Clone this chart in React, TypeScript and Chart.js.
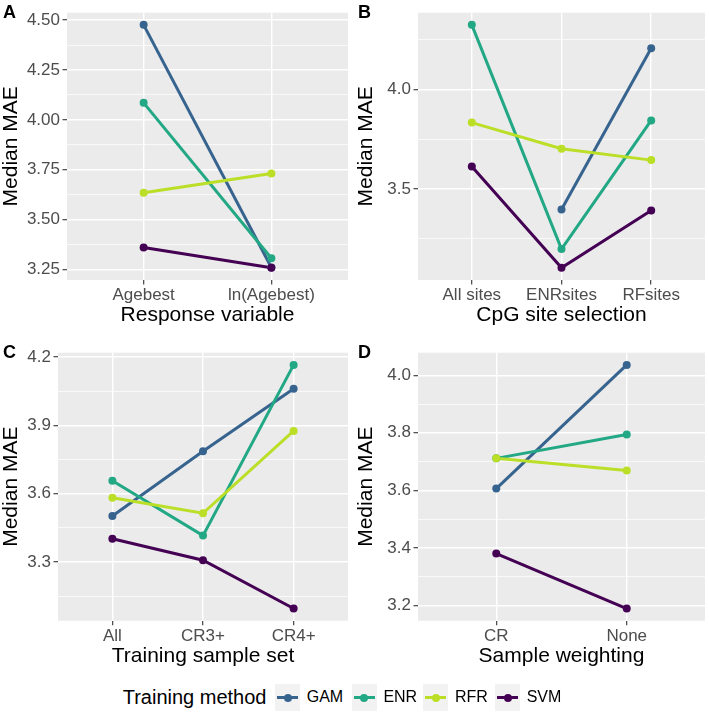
import React, { useEffect, useRef } from 'react';
import { Chart, registerables } from 'chart.js';
Chart.register(...registerables);

const FONT = "'Liberation Sans', Arial, Helvetica, sans-serif";

const METHODS = ['GAM', 'ENR', 'RFR', 'SVM'];
const COLORS = ['#37648F', '#22A884', '#BBDF27', '#440154'];

// Panel A – Response variable
const CATS_A = ['Agebest', 'ln(Agebest)'];
const GAM_A = [4.476, 3.26];
const ENR_A = [4.085, 3.306];
const RFR_A = [3.634, 3.731];
const SVM_A = [3.36, 3.258];
const TICKS_A = [3.25, 3.5, 3.75, 4.0, 4.25, 4.5];

// Panel B – CpG site selection
const CATS_B = ['All sites', 'ENRsites', 'RFsites'];
const GAM_B = [null, 3.397, 4.206];
const ENR_B = [4.323, 3.199, 3.844];
const RFR_B = [3.833, 3.702, 3.645];
const SVM_B = [3.613, 3.105, 3.392];
const TICKS_B = [3.5, 4.0];

// Panel C – Training sample set
const CATS_C = ['All', 'CR3+', 'CR4+'];
const GAM_C = [3.502, 3.786, 4.06];
const ENR_C = [3.657, 3.416, 4.165];
const RFR_C = [3.582, 3.514, 3.875];
const SVM_C = [3.402, 3.308, 3.096];
const TICKS_C = [3.3, 3.6, 3.9, 4.2];

// Panel D – Sample weighting
const CATS_D = ['CR', 'None'];
const GAM_D = [3.606, 4.036];
const ENR_D = [3.711, 3.794];
const RFR_D = [3.711, 3.669];
const SVM_D = [3.38, 3.189];
const TICKS_D = [3.2, 3.4, 3.6, 3.8, 4.0];

type PanelCfg = {
  letter: string;
  xTitle: string;
  cats: string[];
  series: (number | null)[][];
  ticks: number[];
  decimals: number;
  left: number;
  top: number;
  width: number;
  height: number;
  yWidth: number;
  xHeight: number;
  padTop: number;
  padRight: number;
};

const PANELS: PanelCfg[] = [
  { letter: 'A', xTitle: 'Response variable', cats: CATS_A, series: [GAM_A, ENR_A, RFR_A, SVM_A], ticks: TICKS_A, decimals: 2,
    left: 0, top: 0, width: 354, height: 335, yWidth: 67, xHeight: 55, padTop: 4, padRight: 6 },
  { letter: 'B', xTitle: 'CpG site selection', cats: CATS_B, series: [GAM_B, ENR_B, RFR_B, SVM_B], ticks: TICKS_B, decimals: 1,
    left: 355, top: 0, width: 354, height: 335, yWidth: 63, xHeight: 55, padTop: 4, padRight: 4 },
  { letter: 'C', xTitle: 'Training sample set', cats: CATS_C, series: [GAM_C, ENR_C, RFR_C, SVM_C], ticks: TICKS_C, decimals: 1,
    left: 0, top: 340, width: 354, height: 336, yWidth: 58, xHeight: 55.3, padTop: 3.3, padRight: 6 },
  { letter: 'D', xTitle: 'Sample weighting', cats: CATS_D, series: [GAM_D, ENR_D, RFR_D, SVM_D], ticks: TICKS_D, decimals: 1,
    left: 355, top: 340, width: 354, height: 336, yWidth: 63, xHeight: 55.3, padTop: 3.3, padRight: 4 },
];

const bgPlugin = {
  id: 'panelBg',
  beforeDraw(chart: any) {
    const { ctx, chartArea } = chart;
    ctx.save();
    ctx.fillStyle = '#EBEBEB';
    ctx.fillRect(chartArea.left, chartArea.top, chartArea.right - chartArea.left, chartArea.bottom - chartArea.top);
    ctx.restore();
  },
};

function Panel({ cfg }: { cfg: PanelCfg }) {
  const ref = useRef<HTMLCanvasElement>(null);
  useEffect(() => {
    const canvas = ref.current;
    if (!canvas) return;
    const all = cfg.series.flat().filter((v) => v != null) as number[];
    const lo = Math.min(...all);
    const hi = Math.max(...all);
    const ex = (hi - lo) * 0.05;
    const ymin = lo - ex;
    const ymax = hi + ex;
    const step = cfg.ticks[1] - cfg.ticks[0];
    const yTicks: any[] = [];
    for (let k = -6; k <= cfg.ticks.length * 2 + 6; k++) {
      const v = Math.round((cfg.ticks[0] + (k * step) / 2) * 1e6) / 1e6;
      if (v >= ymin && v <= ymax) yTicks.push({ value: v, minor: k % 2 !== 0 });
    }
    const pts = (i: number) =>
      cfg.cats
        .map((_, j) => ({ x: j + 1, y: cfg.series[i][j] }))
        .filter((p) => p.y != null);

    const lineSets = METHODS.map((m, i) => ({
      label: m,
      data: pts(i),
      borderColor: COLORS[i],
      backgroundColor: COLORS[i],
      borderWidth: 3,
      pointRadius: 0,
      pointHoverRadius: 0,
      tension: 0,
      order: 10 - i,
      clip: false as any,
    }));
    const pointSets = METHODS.map((m, i) => ({
      label: m + ' points',
      data: pts(i),
      showLine: false,
      borderColor: COLORS[i],
      backgroundColor: COLORS[i],
      pointBackgroundColor: COLORS[i],
      pointBorderWidth: 0,
      pointRadius: 4,
      pointHoverRadius: 4,
      order: 4 - i,
      clip: false as any,
    }));

    const chart = new Chart(canvas, {
      type: 'line',
      data: { datasets: [...lineSets, ...pointSets] as any },
      plugins: [bgPlugin],
      options: {
        animation: false,
        responsive: false,
        maintainAspectRatio: false,
        events: [],
        layout: { padding: { top: cfg.padTop, right: cfg.padRight, left: 0, bottom: 0 } },
        plugins: { legend: { display: false }, tooltip: { enabled: false } },
        scales: {
          x: {
            type: 'linear',
            min: 0.4,
            max: cfg.cats.length + 0.6,
            afterBuildTicks: (scale: any) => {
              scale.ticks = cfg.cats.map((_, j) => ({ value: j + 1 }));
            },
            afterFit: (scale: any) => {
              scale.height = cfg.xHeight;
            },
            border: { display: false },
            grid: {
              color: '#FFFFFF',
              lineWidth: 1.4,
              tickColor: '#333333',
              tickLength: 4.5,
              tickWidth: 1.1,
              drawTicks: true,
            },
            ticks: {
              autoSkip: false,
              maxRotation: 0,
              padding: 1,
              color: '#4D4D4D',
              font: { family: FONT, size: 17 },
              callback: (v: any) => cfg.cats[Math.round(Number(v)) - 1] ?? '',
            },
            title: {
              display: true,
              text: cfg.xTitle,
              color: '#000000',
              font: { family: FONT, size: 21, lineHeight: 1 },
              padding: { top: 0, bottom: 9.5 },
            },
          },
          y: {
            type: 'linear',
            min: ymin,
            max: ymax,
            afterBuildTicks: (scale: any) => {
              scale.ticks = yTicks.map((t) => ({ ...t }));
            },
            afterFit: (scale: any) => {
              scale.width = cfg.yWidth;
            },
            border: { display: false },
            grid: {
              color: '#FFFFFF',
              lineWidth: (ctx: any) => (ctx.tick && ctx.tick.minor ? 0.7 : 1.4),
              tickColor: (ctx: any) => (ctx.tick && ctx.tick.minor ? 'rgba(0,0,0,0)' : '#333333'),
              tickLength: 4.5,
              tickWidth: 1.1,
              drawTicks: true,
            },
            ticks: {
              autoSkip: false,
              padding: 2.5,
              color: '#4D4D4D',
              font: { family: FONT, size: 17 },
              callback: (v: any, idx: number, ticks: any[]) =>
                ticks[idx] && ticks[idx].minor ? '' : Number(v).toFixed(cfg.decimals),
            },
            title: {
              display: true,
              text: 'Median MAE',
              color: '#000000',
              font: { family: FONT, size: 21, lineHeight: 1 },
              padding: { top: 0.5, bottom: 0 },
            },
          },
        },
      } as any,
    });
    return () => chart.destroy();
  }, [cfg]);

  return (
    <>
      <canvas
        ref={ref}
        width={cfg.width}
        height={cfg.height}
        style={{ position: 'absolute', left: cfg.left, top: cfg.top, width: cfg.width, height: cfg.height }}
      />
      <div
        style={{
          position: 'absolute',
          left: cfg.left + 3,
          top: cfg.top + 3,
          fontFamily: FONT,
          fontWeight: 'bold',
          fontSize: 18,
          lineHeight: '18px',
          color: '#000',
        }}
      >
        {cfg.letter}
      </div>
    </>
  );
}

const LEGEND_KEY_LEFT = [275, 351.7, 423.3, 495];
const LEGEND_LABEL_LEFT = [306.7, 383.4, 455, 526.7];

export default function App() {
  return (
    <div style={{ position: 'absolute', left: 0, top: 0, width: 709, height: 716, background: '#FFFFFF', overflow: 'hidden' }}>
      {PANELS.map((p) => (
        <Panel key={p.letter} cfg={p} />
      ))}
      <div
        style={{ position: 'absolute', left: 122.7, top: 687, fontFamily: FONT, fontSize: 20, lineHeight: '20px', color: '#000', whiteSpace: 'nowrap' }}
      >
        Training method
      </div>
      {METHODS.map((m, i) => (
        <React.Fragment key={m}>
          <div style={{ position: 'absolute', left: LEGEND_KEY_LEFT[i], top: 684, width: 25, height: 27, background: '#F2F2F2' }}>
            <div style={{ position: 'absolute', left: 2, top: 12, width: 21, height: 3, background: COLORS[i] }} />
            <div style={{ position: 'absolute', left: 8.5, top: 9.5, width: 8, height: 8, borderRadius: 4, background: COLORS[i] }} />
          </div>
          <div
            style={{ position: 'absolute', left: LEGEND_LABEL_LEFT[i], top: 689, fontFamily: FONT, fontSize: 16, lineHeight: '16px', color: '#000', whiteSpace: 'nowrap' }}
          >
            {m}
          </div>
        </React.Fragment>
      ))}
    </div>
  );
}
